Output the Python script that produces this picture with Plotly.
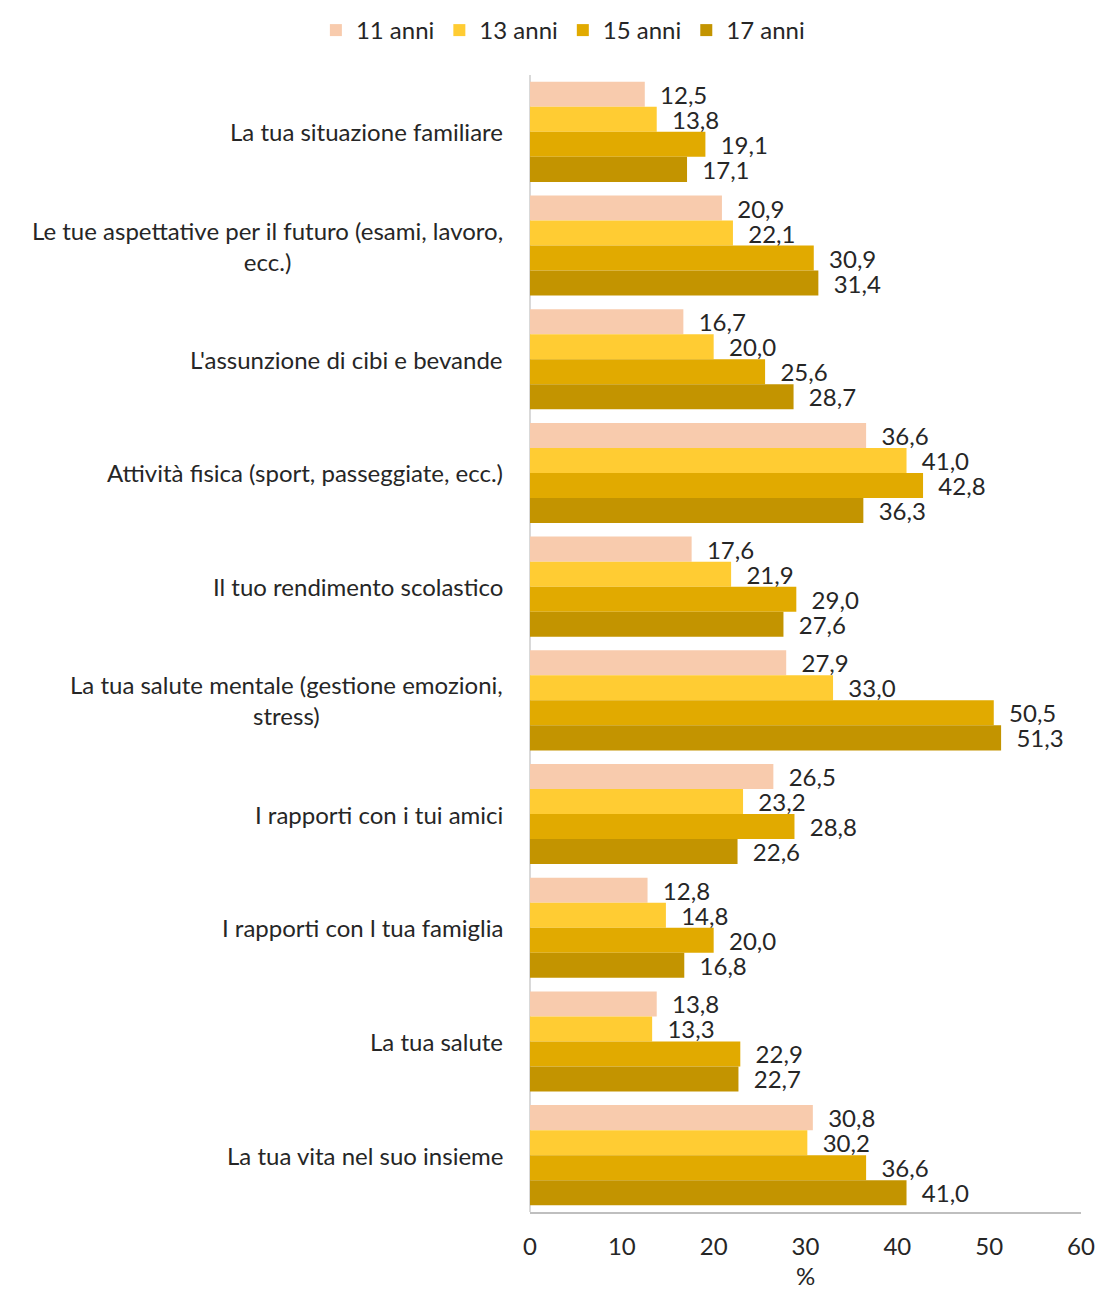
import plotly.graph_objects as go

categories = [
    "La tua situazione familiare",
    "Le tue aspettative per il futuro (esami, lavoro,<br>ecc.)",
    "L'assunzione di cibi e bevande",
    "Attività fisica (sport, passeggiate, ecc.)",
    "Il tuo rendimento scolastico",
    "La tua salute mentale (gestione emozioni,<br>stress)",
    "I rapporti con i tui amici",
    "I rapporti con l tua famiglia",
    "La tua salute",
    "La tua vita nel suo insieme",
]
series_names = ["11 anni", "13 anni", "15 anni", "17 anni"]
v11 = [12.5, 20.9, 16.7, 36.6, 17.6, 27.9, 26.5, 12.8, 13.8, 30.8]
v13 = [13.8, 22.1, 20.0, 41.0, 21.9, 33.0, 23.2, 14.8, 13.3, 30.2]
v15 = [19.1, 30.9, 25.6, 42.8, 29.0, 50.5, 28.8, 20.0, 22.9, 36.6]
v17 = [17.1, 31.4, 28.7, 36.3, 27.6, 51.3, 22.6, 16.8, 22.7, 41.0]
colors = ["#F8CBAD", "#FFCC33", "#E1AA00", "#C39400"]
x_ticks = [0, 10, 20, 30, 40, 50, 60]

FONT = "Lato"
TXT = "#262626"
FS = 24

fig = go.Figure()
for name, vals, col in zip(series_names, [v11, v13, v15, v17], colors):
    fig.add_trace(go.Bar(
        y=list(range(len(categories))), x=vals, name=name, orientation="h",
        marker=dict(color=col, line=dict(width=0)),
        texttemplate="\u00a0\u00a0%{x:.1f}",
        textposition="outside", constraintext="none", cliponaxis=False,
        textfont=dict(family=FONT, size=FS, color=TXT),
    ))

for i, c in enumerate(categories):
    fig.add_annotation(
        x=-0.045, xref="paper", y=i, yref="y", text=c, showarrow=False,
        xanchor="right", yanchor="middle", align="center",
        font=dict(family=FONT, size=FS, color=TXT),
    )

fig.update_layout(
    width=1088, height=1282,
    margin=dict(l=522, r=15, t=67, b=78, autoexpand=False),
    separators=",.",
    paper_bgcolor="white", plot_bgcolor="white",
    barmode="group", bargap=0.12, bargroupgap=0,
    font=dict(family=FONT, size=FS, color=TXT),
    legend=dict(orientation="h", x=0.51, xanchor="center", xref="container",
                y=1.0, yanchor="top", yref="container",
                font=dict(family=FONT, size=FS, color=TXT),
                itemwidth=30, traceorder="normal"),
    showlegend=True,
)
fig.update_yaxes(
    range=[len(categories) - 0.5, -0.5], showticklabels=False, ticks="",
    showgrid=False, zeroline=False, showline=False, automargin=False,
)
fig.update_xaxes(
    range=[0, 60], tickvals=x_ticks, ticktext=[str(t) for t in x_ticks],
    showgrid=False, zeroline=True, zerolinecolor="#D9D9D9", zerolinewidth=2,
    showline=True, linecolor="#BFBFBF", linewidth=2, ticks="", automargin=False,
    tickfont=dict(family=FONT, size=FS, color=TXT), ticklabelstandoff=12,
    title=dict(text="%", font=dict(family=FONT, size=FS, color=TXT), standoff=14),
)
fig.write_html("out.html")
